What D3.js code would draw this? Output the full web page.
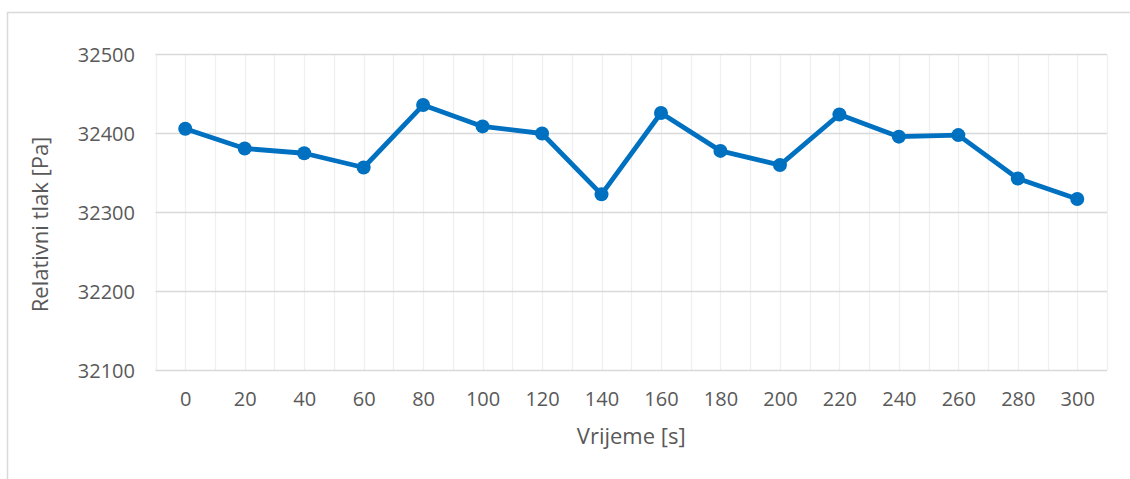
<!DOCTYPE html>
<html>
<head>
<meta charset="utf-8">
<script src="https://cdn.jsdelivr.net/npm/d3@7"></script>
<style>
  html, body { margin: 0; padding: 0; background: #fff; }
  svg { display: block; }
  text { font-family: "Open Sans", sans-serif; fill: #595959; }
</style>
</head>
<body>
<svg id="chart" width="1130" height="479"></svg>
<script>
// Time points (s) and measured relative pressure (Pa)
const vrijeme = [0, 20, 40, 60, 80, 100, 120, 140, 160, 180, 200, 220, 240, 260, 280, 300];
const tlak = [32406, 32381, 32375, 32357, 32436, 32409, 32400, 32323, 32426, 32378, 32360, 32424, 32396, 32398, 32343, 32317];
const yTicks = [32100, 32200, 32300, 32400, 32500];
const xTitle = "Vrijeme [s]";
const yTitle = "Relativni tlak [Pa]";

const W = 1130, H = 479;
const plot = { left: 155.5, right: 1107, top: 54.5, bottom: 370.5 };
const color = "#0070C0";

const svg = d3.select("#chart");

// outer chart frame
svg.append("rect")
  .attr("x", 7.5).attr("y", 12.5)
  .attr("width", W + 10).attr("height", H + 10)
  .attr("fill", "#fff").attr("stroke", "#d9d9d9").attr("stroke-width", 1.5);

const x = d3.scalePoint().domain(vrijeme).range([plot.left, plot.right]).padding(0.5);
const band = d3.scaleBand().domain(vrijeme).range([plot.left, plot.right]);
const y = d3.scaleLinear().domain([32100, 32500]).range([plot.bottom, plot.top]);

// vertical gridlines: category centres and category boundaries
const vLines = vrijeme.map(d => x(d))
  .concat(vrijeme.map(d => band(d)))
  .concat([band(vrijeme[vrijeme.length - 1]) + band.bandwidth()]);
svg.append("g").selectAll("line").data(vLines).join("line")
  .attr("x1", d => Math.round(d) + 0.5).attr("x2", d => Math.round(d) + 0.5)
  .attr("y1", plot.top).attr("y2", plot.bottom)
  .attr("stroke", "#efefef").attr("stroke-width", 1.3);

// horizontal gridlines
svg.append("g").selectAll("line").data(yTicks).join("line")
  .attr("x1", plot.left).attr("x2", plot.right)
  .attr("y1", d => y(d)).attr("y2", d => y(d))
  .attr("stroke", "#d9d9d9").attr("stroke-width", d => d === 32100 ? 1.6 : 1.3);

// y-axis labels
const yAxis = d3.axisLeft(y).tickValues(yTicks).tickSize(0).tickPadding(20).tickFormat(d3.format("d"));
const gy = svg.append("g").attr("transform", `translate(${plot.left},0)`).call(yAxis);
gy.select(".domain").remove();
gy.selectAll("text")
  .attr("x", 135 - plot.left).attr("dy", "0.36em")
  .style("font-family", "'Open Sans', sans-serif").style("font-size", "20px").attr("fill", "#595959");

// x-axis labels
const xAxis = d3.axisBottom(x).tickSize(0).tickPadding(0);
const gx = svg.append("g").attr("transform", `translate(0,${plot.bottom})`).call(xAxis);
gx.select(".domain").remove();
gx.selectAll("text")
  .attr("y", 35).attr("dy", 0)
  .style("font-family", "'Open Sans', sans-serif").style("font-size", "20px").attr("fill", "#595959");

// axis titles
svg.append("text")
  .attr("x", (plot.left + plot.right) / 2).attr("y", 444)
  .attr("text-anchor", "middle").style("font-size", "22px")
  .text(xTitle);
svg.append("text")
  .attr("transform", `translate(48,${(plot.top + plot.bottom) / 2 + 12}) rotate(-90)`)
  .attr("text-anchor", "middle").style("font-size", "22px")
  .text(yTitle);

// data line and markers
const pts = vrijeme.map((v, i) => [v, tlak[i]]);
svg.append("path")
  .datum(pts)
  .attr("fill", "none").attr("stroke", color)
  .attr("stroke-width", 4.8).attr("stroke-linejoin", "round").attr("stroke-linecap", "round")
  .attr("d", d3.line().x(d => x(d[0])).y(d => y(d[1])));
svg.append("g").selectAll("circle").data(pts).join("circle")
  .attr("cx", d => x(d[0])).attr("cy", d => y(d[1])).attr("r", 7)
  .attr("fill", color);
</script>
</body>
</html>
